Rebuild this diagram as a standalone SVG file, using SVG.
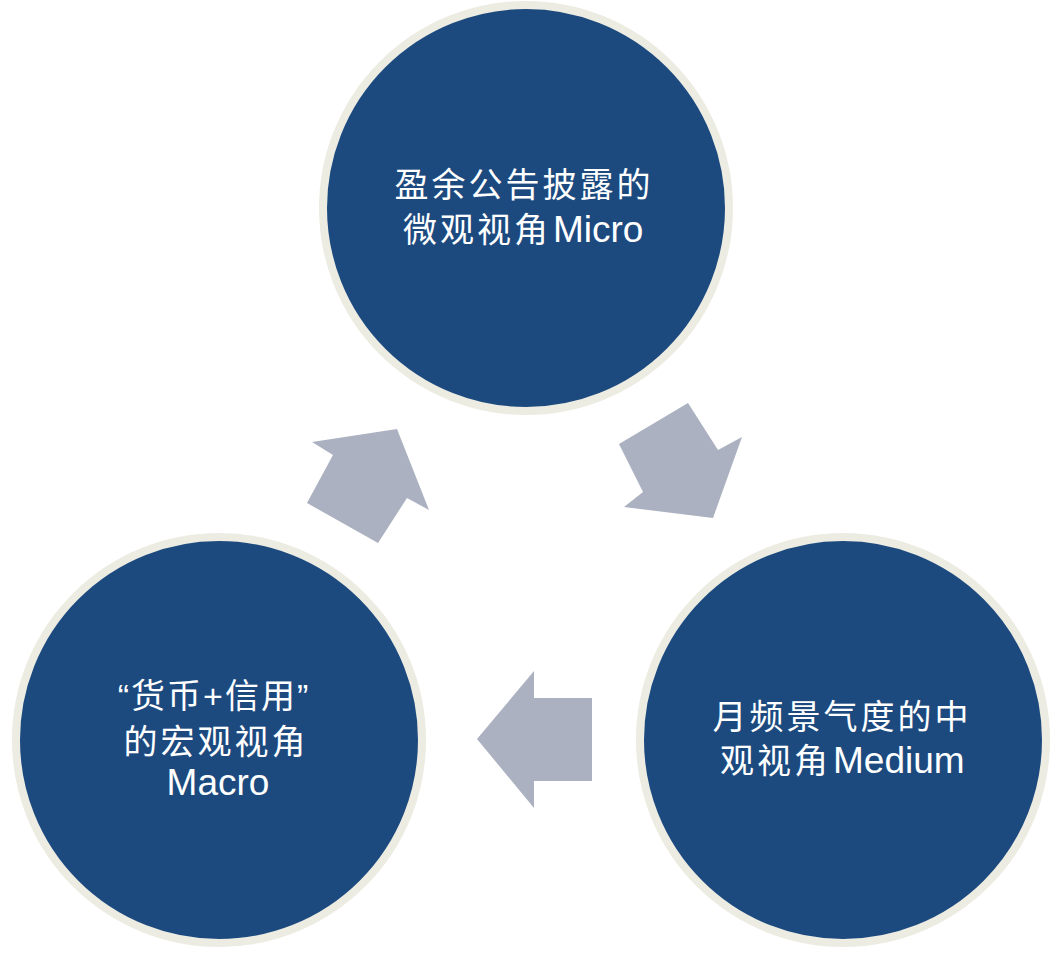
<svg xmlns="http://www.w3.org/2000/svg" width="1056" height="966" viewBox="0 0 1056 966">
<style>
.node{fill:#1c4a7f;stroke:#ecece2;stroke-width:8}
.arrow{fill:#abb1c0}
.t{fill:#ffffff;font-family:"Liberation Sans","Noto Sans CJK SC",sans-serif;font-size:34px}
.c{text-anchor:middle}
.lat{font-size:37px;letter-spacing:0}
</style>
<rect width="1056" height="966" fill="#ffffff"/>
<g id="connectors">
<polygon class="arrow" points="397,429 429,510 407,498 378,543 307,503 333,455 312,442"/>
<polygon class="arrow" points="688,403 718,450 742,437 713,518 624,507 643,492 619,444"/>
<polygon class="arrow" points="477,739 534,671 534,698 592,698 592,781 534,781 534,808"/>
</g>
<g id="node-micro">
<circle class="node" cx="526" cy="208" r="203"/>
<text class="t c" x="524" y="197" letter-spacing="3">盈余公告披露的</text>
<text class="t" x="403" y="242" letter-spacing="3">微观视角<tspan class="lat" dx="2">Micro</tspan></text>
</g>
<g id="node-medium">
<circle class="node" cx="843" cy="740" r="203"/>
<text class="t c" x="842" y="729" letter-spacing="3">月频景气度的中</text>
<text class="t" x="720" y="773" letter-spacing="3">观视角<tspan class="lat" dx="2">Medium</tspan></text>
</g>
<g id="node-macro">
<circle class="node" cx="219" cy="740" r="203"/>
<text class="t c" x="214" y="708" letter-spacing="2">“货币+信用”</text>
<text class="t c" x="216" y="754" letter-spacing="3">的宏观视角</text>
<text class="t c lat" x="218" y="795">Macro</text>
</g>
</svg>
